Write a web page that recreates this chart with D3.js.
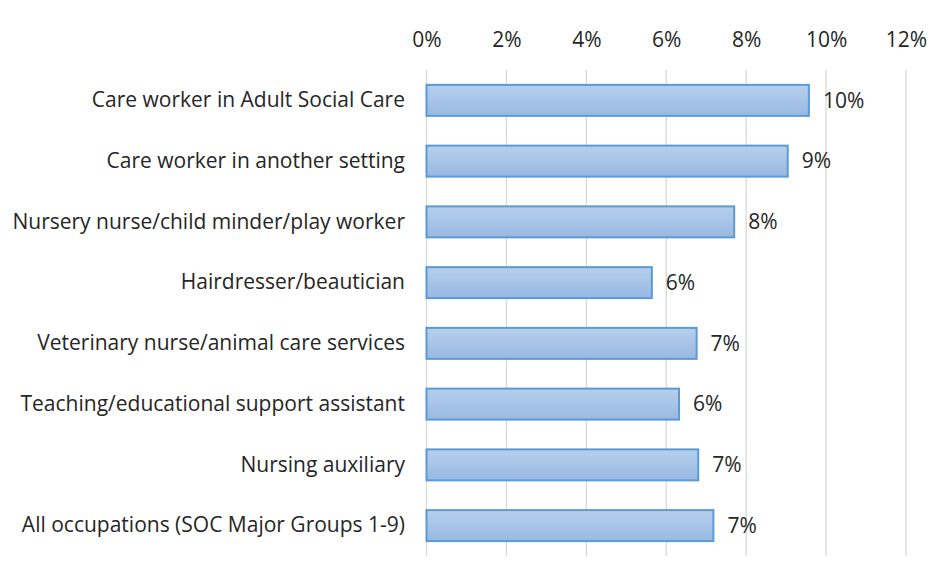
<!DOCTYPE html>
<html>
<head>
<meta charset="utf-8">
<script src="https://cdn.jsdelivr.net/npm/d3@7"></script>
<style>
  body { margin: 0; background: #fff; }
  text { font-family: "Open Sans", Lato, sans-serif; fill: #262626; }
</style>
</head>
<body>
<div id="chart"></div>
<script>
// data
var occupations = [
  "Care worker in Adult Social Care",
  "Care worker in another setting",
  "Nursery nurse/child minder/play worker",
  "Hairdresser/beautician",
  "Veterinary nurse/animal care services",
  "Teaching/educational support assistant",
  "Nursing auxiliary",
  "All occupations (SOC Major Groups 1-9)"
];
var shares = [9.57, 9.04, 7.70, 5.64, 6.76, 6.32, 6.80, 7.18];
var ticks = [0, 2, 4, 6, 8, 10, 12];

var width = 941, height = 576;
var margin = { top: 70, right: 35, bottom: 20, left: 426.5 };

var svg = d3.select("#chart")
  .append("svg")
  .attr("width", width)
  .attr("height", height);

var defs = svg.append("defs");
var grad = defs.append("linearGradient")
  .attr("id", "barFill")
  .attr("x1", 0).attr("y1", 0).attr("x2", 0).attr("y2", 1);
grad.append("stop").attr("offset", "0%").attr("stop-color", "#b7cfec");
grad.append("stop").attr("offset", "100%").attr("stop-color", "#98b9e3");

var x = d3.scaleLinear()
  .domain([0, 12])
  .range([margin.left, 906]);

var y = d3.scaleBand()
  .domain(occupations)
  .range([margin.top, 556])
  .paddingInner(0.49)
  .paddingOuter(0.245);

// gridlines
svg.append("g")
  .selectAll("line")
  .data(ticks)
  .enter()
  .append("line")
  .attr("x1", function (d) { return x(d); })
  .attr("x2", function (d) { return x(d); })
  .attr("y1", margin.top)
  .attr("y2", 556)
  .attr("stroke", "#d9d9d9")
  .attr("stroke-width", 1.3);

// top axis labels
var xAxis = svg.append("g")
  .attr("transform", "translate(0,47)")
  .call(d3.axisTop(x).tickValues(ticks).tickSize(0).tickPadding(0)
    .tickFormat(function (d) { return d + "%"; }));
xAxis.select(".domain").remove();
xAxis.selectAll("text")
  .style("font-size", "21px")
  .attr("fill", "#404040");

// category labels
var yAxis = svg.append("g")
  .attr("transform", "translate(405,0)")
  .call(d3.axisLeft(y).tickSize(0).tickPadding(0));
yAxis.select(".domain").remove();
yAxis.selectAll("text")
  .style("font-size", "21px")
  .attr("fill", "#262626");

// bars
svg.append("g")
  .selectAll("rect")
  .data(shares)
  .enter()
  .append("rect")
  .attr("x", x(0))
  .attr("y", function (d, i) { return y(occupations[i]); })
  .attr("width", function (d) { return x(d) - x(0); })
  .attr("height", y.bandwidth())
  .attr("fill", "url(#barFill)")
  .attr("stroke", "#5b9bd5")
  .attr("stroke-width", 2);

// value labels
svg.append("g")
  .selectAll("text")
  .data(shares)
  .enter()
  .append("text")
  .attr("x", function (d) { return x(d) + 14; })
  .attr("y", function (d, i) { return y(occupations[i]) + y.bandwidth() / 2; })
  .attr("dy", "0.35em")
  .style("font-size", "21px")
  .text(function (d) { return Math.round(d) + "%"; });
</script>
</body>
</html>
